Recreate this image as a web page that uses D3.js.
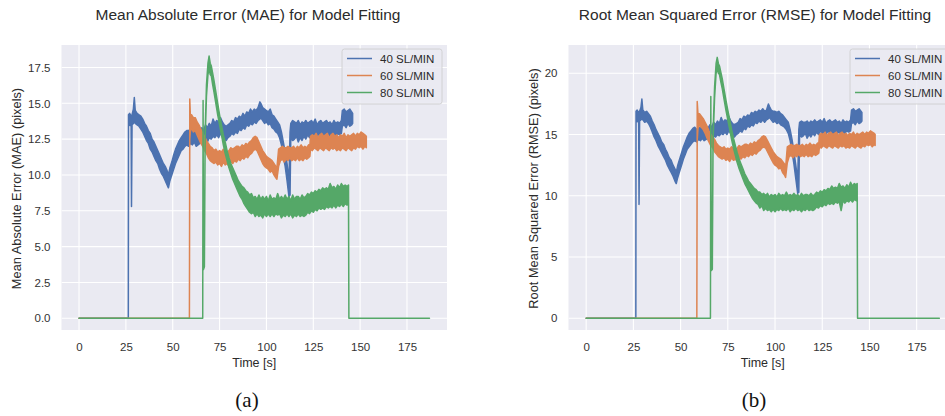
<!DOCTYPE html>
<html>
<head>
<meta charset="utf-8">
<script src="https://cdn.jsdelivr.net/npm/d3@7"></script>
<style>
  html, body { margin: 0; padding: 0; background: #ffffff; }
  svg { display: block; }
  text { font-family: "Liberation Sans", Arial, sans-serif; fill: #2b2b2b; }
  .caption { font-family: "Liberation Serif", "DejaVu Serif", serif; fill: #111; }
</style>
</head>
<body>
<svg id="chart" width="945" height="416"></svg>
<script>
// ---- data: each row is [time (s), lower envelope, upper envelope] ----
const seriesNames = ["40 SL/MIN", "60 SL/MIN", "80 SL/MIN"];
const timeTicks = [0, 25, 50, 75, 100, 125, 150, 175];
const maeTicks = [0, 2.5, 5, 7.5, 10, 12.5, 15, 17.5];
const rmseTicks = [0, 5, 10, 15, 20];

const mae40 = [[0,0,0],[26.3,0,0],[26.4,13.4,14.2],[27,13.5,14.3],[27.8,13.4,14.1],[28,7.8,14.0],[28.3,13.5,14.2],[29,13.6,14.6],[29.5,13.7,15.4],[30,13.6,14.5],[31,13.5,14.3],[32,13.4,14.2],[33,13.2,14.1],[34,13.0,13.9],[35,12.7,13.6],[36,12.4,13.4],[37,12.2,13.1],[38,11.8,12.9],[39,11.6,12.5],[40,11.3,12.3],[41,11.0,12.0],[42,10.8,11.7],[43,10.4,11.4],[44,10.1,11.1],[45,9.9,10.8],[46,9.6,10.6],[47,9.3,10.3],[47.7,9.1,10.0],[48.5,9.6,10.5],[49.5,10.0,10.9],[50.5,10.4,11.4],[51.5,10.8,11.8],[52.5,11.1,12.1],[53.5,11.4,12.4],[54.5,11.7,12.6],[55.5,11.8,12.8],[56.5,12.0,13.0],[57.5,12.1,13.1],[58.5,12.0,13.1],[59.5,12.2,13.2],[60.5,12.1,13.0],[61.5,12.3,13.2],[62.5,12.0,13.0],[63.5,12.1,13.1],[64.5,12.2,13.0],[65.5,12.3,13.3],[66.5,12.0,13.1],[67.5,12.4,13.5],[68.5,12.3,13.3],[69.5,12.6,13.6],[70.5,12.5,13.4],[71.5,12.7,13.9],[72.5,12.6,13.6],[73.5,12.8,13.8],[74.5,12.6,13.7],[75.5,12.9,14.0],[76.5,12.7,13.7],[77.5,12.5,13.5],[78.5,12.4,13.4],[79.5,12.6,13.5],[80.5,12.7,13.6],[81.5,12.9,13.8],[82.5,12.8,13.7],[83.5,13.0,14.0],[84.5,12.9,13.9],[85.5,13.2,14.1],[86.5,13.1,14.0],[87.5,13.3,14.3],[88.5,13.2,14.1],[89.5,13.5,14.4],[90.5,13.4,14.3],[91.5,13.6,14.6],[92.5,13.5,14.4],[93.5,13.7,14.6],[94.5,13.6,14.5],[95.5,13.8,14.7],[96.5,13.9,15.1],[97,14.0,15.0],[98,13.8,14.7],[99,13.6,14.6],[100,13.7,14.5],[101,13.5,14.4],[102,13.6,14.6],[103,13.3,14.2],[104,13.2,14.1],[105,13.0,13.9],[106,12.9,13.7],[107,12.6,13.5],[108,12.1,13.0],[109,11.3,12.3],[110,10.6,11.6],[111,9.6,10.8],[112,8.5,9.5],[112.6,8.6,13.0],[113,12.6,13.6],[114,12.4,13.8],[115,12.5,13.7],[116,12.7,13.6],[117,12.3,13.8],[118,12.6,13.5],[119,12.4,13.7],[120,12.7,13.6],[121,12.5,13.8],[122,12.8,13.6],[123,12.6,13.7],[124,12.9,13.8],[125,12.7,13.6],[126,12.8,13.9],[127,12.6,13.5],[128,12.9,13.7],[129,12.7,13.8],[130,12.8,13.6],[131,12.6,13.7],[132,12.9,13.8],[133,12.7,13.6],[134,12.8,13.7],[135,12.6,13.5],[136,12.8,13.8],[137,12.7,13.6],[138,12.9,13.7],[139,12.8,13.6],[140,12.9,13.8],[140.5,13.4,14.5],[141.5,13.5,14.6],[142.5,13.3,14.4],[143.5,13.6,14.5],[144.5,13.4,14.6],[145.5,13.5,14.4],[146,13.6,14.3]];

const mae60 = [[0,0,0],[58.9,0,0],[59.1,12.5,15.3],[59.4,13.0,14.2],[60,13.3,14.2],[61,13.0,14.0],[62,13.1,14.0],[63,12.8,13.7],[64,12.5,13.5],[65,12.2,13.2],[66,12.0,12.9],[67,11.7,12.7],[68,11.5,12.4],[69,11.2,12.2],[70,11.0,12.0],[71,10.9,11.9],[72,10.8,11.7],[73,10.9,11.8],[74,10.7,11.6],[75,10.8,11.7],[76,10.6,11.6],[77,10.9,11.8],[78,10.7,11.7],[79,10.8,11.6],[80,10.6,11.7],[81,10.9,11.9],[82,10.8,11.8],[83,11.0,11.9],[84,10.9,12.0],[85,11.1,12.0],[86,11.0,11.9],[87,11.2,12.1],[88,11.1,12.0],[89,11.3,12.2],[90,11.2,12.1],[91,11.4,12.3],[92,11.5,12.4],[93,11.7,12.6],[94,11.8,12.7],[95,11.7,12.6],[96,11.4,12.3],[97,11.1,12.0],[98,10.8,11.7],[99,10.6,11.5],[100,10.5,11.3],[101,10.4,11.2],[102,10.2,11.1],[103,10.3,11.0],[104,10.0,10.8],[105,9.8,10.6],[105.6,9.7,10.5],[106.5,10.6,11.8],[107.5,11.0,11.9],[108.5,11.1,12.0],[109.5,10.9,11.9],[110.5,11.1,11.9],[111.5,11.0,12.0],[112.5,11.2,11.9],[113.5,11.0,11.9],[114.5,11.1,12.0],[115.5,11.0,11.8],[116.5,11.2,12.0],[117.5,11.0,11.9],[118.5,11.1,12.1],[119.5,11.0,11.9],[120.5,11.2,12.0],[121.5,11.1,11.9],[122.5,11.2,12.1],[123.2,11.3,12.1],[123.5,11.8,12.7],[124.5,11.7,12.8],[125.5,11.9,12.7],[126.5,11.8,12.9],[127.5,11.7,12.6],[128.5,11.9,12.8],[129.5,11.8,12.9],[130.5,11.7,12.7],[131.5,11.9,12.8],[132.5,11.8,12.9],[133.5,11.7,12.6],[134.5,11.9,12.8],[135.5,11.8,12.9],[136.5,11.9,12.7],[137.5,11.7,12.8],[138.5,11.8,12.6],[139.5,11.7,12.8],[140.5,11.9,12.7],[141.5,11.8,12.9],[142.5,11.7,12.6],[143.5,11.9,12.8],[144.5,11.8,12.7],[145.5,11.7,12.8],[146.5,11.9,12.9],[147.5,11.8,12.7],[148.5,12.0,12.9],[149.5,11.9,12.8],[150.5,12.0,13.0],[151.5,11.8,12.9],[152.5,12.0,12.8],[153.3,11.9,12.7]];

const mae80 = [[0,0,0],[66,0,0],[66.2,15.2,15.2],[66.4,3.4,3.6],[66.9,3.6,4.0],[67.3,12.5,13.0],[68,15.5,16.3],[68.8,17.0,17.8],[69.4,17.4,18.3],[70,17.0,17.8],[70.6,16.9,17.6],[71.3,16.3,17.1],[72,15.8,16.6],[73,15.0,15.8],[74,14.2,15.0],[75,13.5,14.2],[76,12.8,13.5],[77,12.1,12.8],[78,11.5,12.3],[79,11.0,11.7],[80,10.5,11.2],[81,10.1,10.8],[82,9.7,10.5],[83,9.4,10.2],[84,9.1,9.9],[85,8.8,9.6],[86,8.5,9.4],[87,8.3,9.2],[88,8.0,9.1],[89,7.8,8.9],[90,7.6,8.8],[91,7.4,8.6],[92,7.3,8.7],[93,7.4,8.4],[94,7.1,8.5],[95,7.3,8.3],[96,7.1,8.6],[97,7.2,8.3],[98,7.0,8.5],[99,7.3,8.3],[100,7.1,8.5],[101,7.3,8.2],[102,7.1,8.6],[103,7.3,8.3],[104,7.1,8.4],[105,7.3,8.3],[106,7.2,8.7],[107,7.3,8.3],[108,7.0,8.5],[109,7.2,8.3],[110,7.1,8.6],[111,7.3,8.3],[112,7.1,8.5],[113,7.3,8.2],[114,7.0,8.6],[115,7.2,8.3],[116,7.1,8.5],[117,7.3,8.5],[118,7.1,8.3],[119,7.2,8.6],[120,7.1,8.4],[121,7.2,8.5],[122,7.4,8.7],[123,7.3,8.6],[124,7.5,8.8],[125,7.4,8.7],[126,7.6,8.9],[127,7.5,8.8],[128,7.7,9.0],[129,7.6,8.9],[130,7.7,9.1],[131,7.6,9.0],[132,7.8,9.1],[133,7.7,9.0],[134,7.8,9.4],[135,7.7,9.1],[136,7.9,9.2],[137,7.7,9.0],[138,7.9,9.3],[139,7.8,9.1],[140,8.0,9.4],[141,7.8,9.2],[142,8.0,9.3],[143,7.9,9.2],[143.8,8.1,9.3],[144,0,0],[187,0,0]];

const rmse40 = [[0,0,0],[26.3,0,0],[26.4,16.0,16.9],[27,16.1,17.0],[27.8,16.0,16.8],[28,9.3,16.7],[28.3,16.1,16.9],[29,16.2,17.2],[29.5,16.3,17.9],[30,16.2,17.0],[31,16.0,16.8],[32,16.1,16.9],[33,15.9,16.7],[34,15.6,16.5],[35,15.2,16.1],[36,14.8,15.8],[37,14.5,15.4],[38,14.1,15.1],[39,13.8,14.8],[40,13.5,14.4],[41,13.2,14.2],[42,12.9,13.8],[43,12.5,13.5],[44,12.2,13.1],[45,11.9,12.9],[46,11.6,12.5],[47,11.2,12.2],[47.7,11.0,11.9],[48.5,11.5,12.5],[49.5,12.0,13.0],[50.5,12.5,13.5],[51.5,13.0,14.0],[52.5,13.4,14.4],[53.5,13.8,14.8],[54.5,14.0,15.1],[55.5,14.2,15.3],[56.5,14.4,15.5],[57.5,14.5,15.6],[58.5,14.4,15.4],[59.5,14.6,15.6],[60.5,14.5,15.5],[61.5,14.7,15.7],[62.5,14.5,15.4],[63.5,14.6,15.6],[64.5,14.7,15.5],[65.5,14.8,15.8],[66.5,14.6,15.6],[67.5,14.9,16.0],[68.5,14.8,15.8],[69.5,15.0,16.1],[70.5,14.9,15.9],[71.5,15.1,16.4],[72.5,15.0,16.0],[73.5,15.2,16.2],[74.5,15.0,16.1],[75.5,15.3,16.5],[76.5,15.1,16.1],[77.5,14.9,15.9],[78.5,14.8,15.8],[79.5,15.0,15.9],[80.5,15.1,16.0],[81.5,15.3,16.3],[82.5,15.2,16.2],[83.5,15.5,16.5],[84.5,15.4,16.4],[85.5,15.7,16.6],[86.5,15.6,16.5],[87.5,15.8,16.8],[88.5,15.7,16.7],[89.5,16.0,16.9],[90.5,15.9,16.8],[91.5,16.1,17.0],[92.5,16.0,16.9],[93.5,16.2,17.1],[94.5,16.0,16.9],[95.5,16.2,17.0],[96.5,16.3,17.5],[97,16.4,17.3],[98,16.2,17.0],[99,16.0,16.9],[100,16.1,16.9],[101,15.9,16.8],[102,16.0,16.9],[103,15.8,16.7],[104,15.7,16.6],[105,15.6,16.4],[106,15.4,16.2],[107,15.1,16.0],[108,14.5,15.4],[109,13.6,14.6],[110,12.6,13.6],[111,11.4,12.5],[112,10.2,11.2],[112.6,10.3,15.4],[113,15.0,16.0],[114,14.8,16.1],[115,14.9,16.0],[116,15.1,16.0],[117,14.7,16.1],[118,15.0,15.9],[119,14.8,16.1],[120,15.1,16.0],[121,14.9,16.2],[122,15.2,16.0],[123,15.0,16.1],[124,15.3,16.2],[125,15.1,16.0],[126,15.2,16.3],[127,15.0,15.9],[128,15.3,16.1],[129,15.1,16.2],[130,15.2,16.0],[131,15.0,16.1],[132,15.3,16.2],[133,15.1,16.0],[134,15.2,16.1],[135,15.0,15.9],[136,15.2,16.2],[137,15.1,16.0],[138,15.3,16.1],[139,15.2,16.0],[140,15.3,16.2],[140.5,15.9,17.0],[141.5,16.0,17.1],[142.5,15.8,16.9],[143.5,16.1,17.0],[144.5,15.9,17.1],[145.5,16.0,16.9],[146,16.1,16.8]];

const rmse60 = [[0,0,0],[58.6,0,0],[58.8,14.5,17.7],[59.2,15.5,16.7],[60,15.8,16.7],[61,15.6,16.5],[62,15.4,16.3],[63,15.1,16.0],[64,14.7,15.7],[65,14.4,15.3],[66,14.1,15.0],[67,13.9,14.8],[68,13.6,14.6],[69,13.4,14.3],[70,13.2,14.1],[71,13.1,14.0],[72,13.0,13.9],[73,13.1,14.0],[74,12.9,13.8],[75,13.0,13.9],[76,12.8,13.8],[77,13.1,14.0],[78,12.9,13.9],[79,13.0,13.8],[80,12.8,13.9],[81,13.1,14.1],[82,13.0,14.0],[83,13.2,14.1],[84,13.1,14.2],[85,13.3,14.2],[86,13.2,14.1],[87,13.4,14.3],[88,13.3,14.2],[89,13.5,14.4],[90,13.4,14.3],[91,13.6,14.5],[92,13.7,14.6],[93,13.9,14.8],[94,14.0,14.9],[95,13.9,14.8],[96,13.6,14.5],[97,13.3,14.2],[98,13.0,13.9],[99,12.7,13.6],[100,12.5,13.4],[101,12.4,13.2],[102,12.2,13.1],[103,12.3,13.0],[104,11.9,12.8],[105,11.7,12.6],[105.6,11.5,12.3],[106.5,12.7,14.0],[107.5,13.2,14.1],[108.5,13.3,14.2],[109.5,13.1,14.1],[110.5,13.3,14.1],[111.5,13.2,14.2],[112.5,13.4,14.1],[113.5,13.2,14.1],[114.5,13.3,14.2],[115.5,13.2,14.0],[116.5,13.4,14.2],[117.5,13.2,14.1],[118.5,13.3,14.3],[119.5,13.2,14.1],[120.5,13.4,14.2],[121.5,13.3,14.1],[122.5,13.4,14.3],[123.2,13.5,14.3],[123.5,14.0,15.0],[124.5,13.9,15.1],[125.5,14.1,15.0],[126.5,14.0,15.2],[127.5,13.9,14.9],[128.5,14.1,15.1],[129.5,14.0,15.2],[130.5,13.9,15.0],[131.5,14.1,15.1],[132.5,14.0,15.2],[133.5,13.9,14.9],[134.5,14.1,15.1],[135.5,14.0,15.2],[136.5,14.1,15.0],[137.5,13.9,15.1],[138.5,14.0,14.9],[139.5,13.9,15.1],[140.5,14.1,15.0],[141.5,14.0,15.2],[142.5,13.9,14.9],[143.5,14.1,15.1],[144.5,14.0,15.0],[145.5,13.9,15.1],[146.5,14.1,15.2],[147.5,14.0,15.0],[148.5,14.2,15.2],[149.5,14.1,15.1],[150.5,14.2,15.3],[151.5,14.0,15.2],[152.5,14.2,15.1],[153,14.1,15.0]];

const rmse80 = [[0,0,0],[65.8,0,0],[66,18.1,18.1],[66.3,3.9,4.2],[66.8,4.0,4.5],[67.2,14.5,15.2],[68,18.0,18.9],[68.8,20.0,20.8],[69.4,20.4,21.3],[70,20.0,20.8],[70.6,19.9,20.6],[71.3,19.3,20.1],[72,18.8,19.6],[73,17.9,18.7],[74,17.0,17.8],[75,16.2,17.0],[76,15.4,16.2],[77,14.6,15.4],[78,13.9,14.7],[79,13.3,14.1],[80,12.7,13.5],[81,12.2,13.0],[82,11.8,12.6],[83,11.4,12.2],[84,11.0,11.8],[85,10.7,11.5],[86,10.4,11.2],[87,10.1,11.0],[88,9.8,10.8],[89,9.6,10.6],[90,9.4,10.5],[91,9.3,10.3],[92,9.0,10.3],[93,9.2,10.1],[94,8.8,10.2],[95,9.0,10.0],[96,8.8,10.2],[97,8.9,9.9],[98,8.7,10.1],[99,8.9,10.0],[100,8.7,10.1],[101,8.9,9.9],[102,8.8,10.2],[103,9.0,10.0],[104,8.8,10.1],[105,8.9,10.0],[106,8.8,10.3],[107,9.0,10.0],[108,8.7,10.1],[109,8.9,10.0],[110,8.8,10.2],[111,9.0,10.0],[112,8.8,10.1],[113,8.9,9.9],[114,8.7,10.2],[115,8.9,10.0],[116,8.8,10.1],[117,9.0,10.1],[118,8.8,10.0],[119,8.9,10.2],[120,8.8,10.0],[121,8.9,10.1],[122,9.1,10.3],[123,9.0,10.2],[124,9.2,10.4],[125,9.1,10.3],[126,9.3,10.5],[127,9.2,10.4],[128,9.4,10.6],[129,9.3,10.5],[130,9.4,10.8],[131,9.3,10.6],[132,9.5,10.7],[133,9.4,10.6],[134,9.5,11.0],[135,8.8,10.7],[136,9.6,10.8],[137,9.4,10.6],[138,9.6,10.9],[139,9.5,10.7],[140,9.7,11.1],[141,9.5,10.8],[142,9.7,11.0],[143,9.6,10.9],[143.5,9.8,11.0],[143.7,0,0],[187,0,0]];

// ---- drawing ----
const colors = ["#4C72B0", "#DD8452", "#55A868"];
const svg = d3.select("#chart");
svg.append("rect").attr("width", 945).attr("height", 416).attr("fill", "#ffffff");

function panel(opts) {
  const { left, right, top, bottom, yDomain, yTicks, yFormat, series,
          title, titleX, yLabel, yLabelX, legendX, caption, captionX } = opts;

  const x = d3.scaleLinear().domain([-9.35, 196.35]).range([left, right]);
  const y = d3.scaleLinear().domain(yDomain).range([bottom, top]);

  const clipId = "clip" + Math.round(left);
  svg.append("clipPath").attr("id", clipId)
    .append("rect").attr("x", left).attr("y", top)
    .attr("width", right - left).attr("height", bottom - top);

  const g = svg.append("g");
  g.append("rect").attr("x", left).attr("y", top)
    .attr("width", right - left).attr("height", bottom - top)
    .attr("fill", "#EAEAF2");

  // grid
  const grid = g.append("g").attr("clip-path", `url(#${clipId})`);
  grid.selectAll(".vx").data(timeTicks).join("line")
    .attr("x1", d => x(d)).attr("x2", d => x(d))
    .attr("y1", top).attr("y2", bottom)
    .attr("stroke", "#ffffff").attr("stroke-width", 1.1);
  grid.selectAll(".hy").data(yTicks).join("line")
    .attr("x1", left).attr("x2", right)
    .attr("y1", d => y(d)).attr("y2", d => y(d))
    .attr("stroke", "#ffffff").attr("stroke-width", 1.1);

  // axes (no spines, no tick marks)
  const xAxis = d3.axisBottom(x).tickValues(timeTicks).tickSize(0).tickPadding(0);
  const xa = g.append("g").attr("transform", `translate(0,${bottom})`).call(xAxis);
  xa.select(".domain").remove();
  xa.selectAll("text").attr("dy", null).attr("y", 20.5)
    .style("font-size", "11.5px").style("fill", "#333");

  const yAxis = d3.axisLeft(y).tickValues(yTicks).tickFormat(d3.format(yFormat)).tickSize(0).tickPadding(0);
  const ya = g.append("g").attr("transform", `translate(${left - 11},0)`).call(yAxis);
  ya.select(".domain").remove();
  ya.selectAll("text").style("font-size", "11.5px").style("fill", "#333");

  // series bands (min/max envelope of the noisy signal)
  const area = d3.area()
    .x(d => x(d[0])).y0(d => y(d[1])).y1(d => y(d[2]));
  const lines = g.append("g").attr("clip-path", `url(#${clipId})`);
  series.forEach((s, i) => {
    lines.append("path").datum(s)
      .attr("d", area)
      .attr("fill", colors[i])
      .attr("stroke", colors[i])
      .attr("stroke-width", 1.5)
      .attr("stroke-linejoin", "round");
  });

  // legend
  const lg = g.append("g");
  lg.append("rect").attr("x", legendX).attr("y", 49)
    .attr("width", 100).attr("height", 55).attr("rx", 2.5)
    .attr("fill", "#EAEAF2").attr("fill-opacity", 0.85)
    .attr("stroke", "#cccccc").attr("stroke-width", 0.8);
  seriesNames.forEach((name, i) => {
    const yy = 58.5 + i * 17;
    lg.append("line").attr("x1", legendX + 5).attr("x2", legendX + 30)
      .attr("y1", yy).attr("y2", yy)
      .attr("stroke", colors[i]).attr("stroke-width", 1.5);
    lg.append("text").attr("x", legendX + 38).attr("y", yy + 4)
      .style("font-size", "11.5px").text(name);
  });

  // titles and labels
  svg.append("text").attr("x", titleX).attr("y", 20).attr("text-anchor", "middle")
    .style("font-size", "15.5px").text(title);
  svg.append("text").attr("x", (left + right) / 2).attr("y", 366.5)
    .attr("text-anchor", "middle").style("font-size", "12.5px").text("Time [s]");
  svg.append("text")
    .attr("transform", `translate(${yLabelX},${(top + bottom) / 2 + 1}) rotate(-90)`)
    .attr("text-anchor", "middle").style("font-size", "12.8px").text(yLabel);
  svg.append("text").attr("class", "caption").attr("x", captionX).attr("y", 407)
    .attr("text-anchor", "middle").style("font-size", "21px").text(caption);
}

panel({
  left: 61.5, right: 447, top: 45, bottom: 330,
  yDomain: [-0.82, 19.07], yTicks: maeTicks, yFormat: ".1f",
  series: [mae40, mae60, mae80],
  title: "Mean Absolute Error (MAE) for Model Fitting", titleX: 248,
  yLabel: "Mean Absolute Error (MAE) (pixels)", yLabelX: 20.5,
  legendX: 342, caption: "(a)", captionX: 247
});

panel({
  left: 568.5, right: 957, top: 45, bottom: 330,
  yDomain: [-0.955, 22.31], yTicks: rmseTicks, yFormat: "d",
  series: [rmse40, rmse60, rmse80],
  title: "Root Mean Squared Error (RMSE) for Model Fitting", titleX: 755,
  yLabel: "Root Mean Squared Error (RMSE) (pixels)", yLabelX: 537.5,
  legendX: 850, caption: "(b)", captionX: 754
});
</script>
</body>
</html>
